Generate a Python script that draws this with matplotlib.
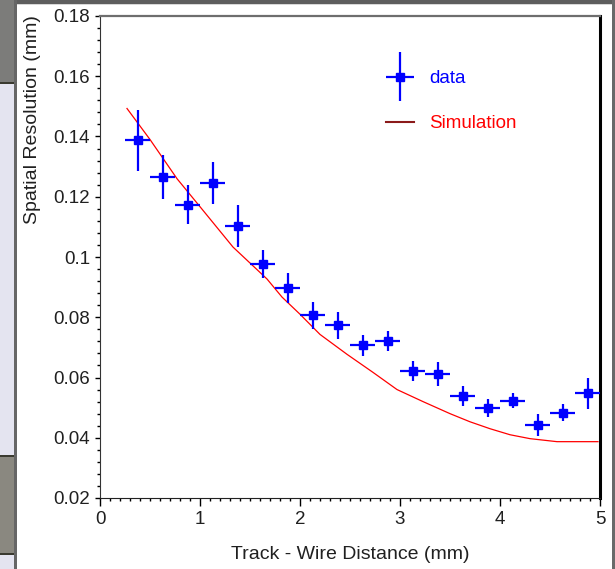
import matplotlib
matplotlib.use('Agg')
import matplotlib.pyplot as plt
from matplotlib.patches import Rectangle
from matplotlib.lines import Line2D
from matplotlib.container import ErrorbarContainer
from matplotlib.legend_handler import HandlerErrorbar
from matplotlib.ticker import MultipleLocator, FuncFormatter

# --- data ---
dist = [0.375, 0.625, 0.875, 1.125, 1.375, 1.625, 1.875, 2.125, 2.375, 2.625,
        2.875, 3.125, 3.375, 3.625, 3.875, 4.125, 4.375, 4.625, 4.875]
res = [0.1387, 0.1267, 0.1173, 0.1247, 0.1103, 0.0977, 0.0897, 0.0807, 0.0773, 0.0707,
       0.0720, 0.0623, 0.0613, 0.0540, 0.0500, 0.0523, 0.0443, 0.0483, 0.0547]
res_err = [0.0100, 0.0073, 0.0065, 0.0070, 0.0070, 0.0047, 0.0050, 0.0045, 0.0045, 0.0035,
           0.0033, 0.0033, 0.0040, 0.0033, 0.0030, 0.0025, 0.0037, 0.0028, 0.0053]
dist_err = [0.125, 0.125, 0.125, 0.125, 0.125, 0.125, 0.125, 0.125, 0.125, 0.125,
            0.125, 0.125, 0.125, 0.125, 0.125, 0.125, 0.125, 0.125, 0.125]

sim_dist = [0.27, 0.5, 0.77, 1.0, 1.33, 1.67, 1.82, 2.0, 2.2, 2.47, 2.73, 2.97,
            3.23, 3.5, 3.7, 3.9, 4.1, 4.3, 4.57, 4.98]
sim_res = [0.1493, 0.139, 0.126, 0.1167, 0.1033, 0.0927, 0.0867, 0.081, 0.0743, 0.0677,
           0.0617, 0.056, 0.052, 0.048, 0.0453, 0.043, 0.041, 0.0397, 0.0387, 0.0387]

plt.rcParams['font.family'] = ['Liberation Sans', 'DejaVu Sans']

W, H = 615, 569
fig = plt.figure(figsize=(W / 100, H / 100), dpi=100)
fig.patch.set_facecolor('white')


def px_rect(x0, y0, x1, y1, color):
    # window chrome around the plot, given in pixels
    fig.add_artist(Rectangle((x0 / W, 1 - y1 / H), (x1 - x0) / W, (y1 - y0) / H,
                             transform=fig.transFigure, facecolor=color, lw=0, zorder=-5))


px_rect(0, 0, 14, 82, '#7c7c7a')
px_rect(0, 82, 14, 84, '#3a3a30')
px_rect(0, 84, 14, 455, '#e4e4f0')
px_rect(0, 455, 14, 457, '#3a3a30')
px_rect(0, 457, 14, 553, '#8a8880')
px_rect(0, 553, 14, 555, '#3a3a30')
px_rect(0, 555, 14, 569, '#e4e4f0')
px_rect(14, 0, 17, 569, '#666666')
px_rect(17, 0, 615, 4, '#5e5e5e')
px_rect(17, 4, 615, 5, '#d8d8d8')
px_rect(612, 0, 615, 569, '#6a6a6a')

ax = fig.add_axes([100 / W, 1 - 498 / H, 500 / W, 482 / H])

eb = ax.errorbar(dist, res, yerr=res_err, xerr=dist_err, fmt='s', color='#0000ff',
                 ms=6, elinewidth=1.6, capsize=0, zorder=3)
ax.plot(sim_dist, sim_res, color='#ff0000', lw=0.9, zorder=2)

ax.set_xlim(0, 5)
ax.set_ylim(0.02, 0.18)
ax.xaxis.set_major_locator(MultipleLocator(1))
ax.xaxis.set_minor_locator(MultipleLocator(0.1))
ax.yaxis.set_major_locator(MultipleLocator(0.02))
ax.yaxis.set_minor_locator(MultipleLocator(0.004))
ax.yaxis.set_major_formatter(FuncFormatter(lambda v, p: f'{v:g}'))
ax.xaxis.set_major_formatter(FuncFormatter(lambda v, p: f'{v:g}'))

ax.tick_params(axis='x', which='major', direction='out', length=6, width=1, pad=3.5,
               labelsize=13.5, labelcolor='#202020')
ax.tick_params(axis='y', which='major', direction='out', length=3.6, width=1, pad=3.5,
               labelsize=13.5, labelcolor='#202020')
ax.tick_params(which='minor', direction='out', length=2, width=1)
ax.tick_params(top=False, right=False, which='both')

ax.spines['left'].set_color('#333333')
ax.spines['bottom'].set_color('#222222')
ax.spines['top'].set_color('#6e6e6e')
ax.spines['top'].set_linewidth(1.6)
ax.spines['right'].set_color('black')
ax.spines['right'].set_linewidth(2.2)

ax.set_xlabel('Track - Wire Distance (mm)', fontsize=14, color='#202020', va='top')
ax.xaxis.set_label_coords(0.5, -0.0996)
ax.set_ylabel('Spatial Resolution (mm)', fontsize=14, color='#202020', loc='top')
ax.yaxis.label.set_va('center')
ax.yaxis.set_label_coords(-0.134, 1.002)

sim_handle = Line2D([], [], color='#8b1a1a', lw=1.5)
leg = ax.legend([eb, sim_handle], ['data', 'Simulation'], loc='upper left',
                bbox_to_anchor=(0.572, 0.888), frameon=False, fontsize=13.5,
                borderpad=0, borderaxespad=0, numpoints=1,
                handlelength=1.5, handletextpad=0.8, labelspacing=1.5,
                handler_map={ErrorbarContainer: HandlerErrorbar(xerr_size=0.75, yerr_size=1.3)})
leg.get_texts()[0].set_color('#0000ff')
leg.get_texts()[1].set_color('#ff0000')

fig.savefig('out.png', dpi=100)
